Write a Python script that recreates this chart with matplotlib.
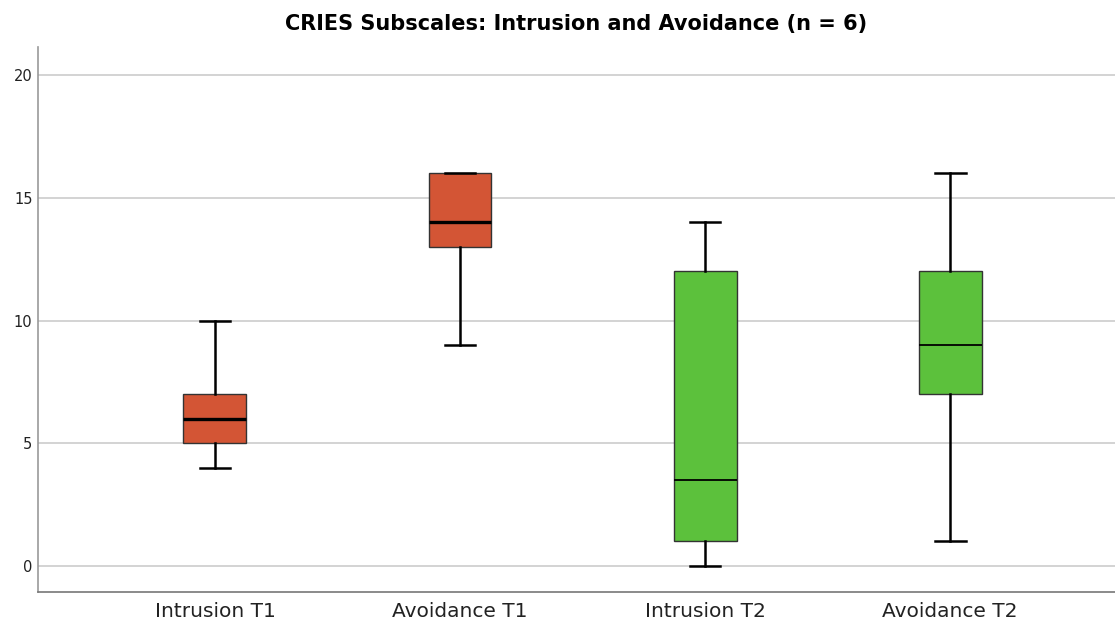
import matplotlib
matplotlib.use("Agg")
import matplotlib.pyplot as plt

# box summary values
labels = ["Intrusion T1", "Avoidance T1", "Intrusion T2", "Avoidance T2"]
whislo = [4, 9, 0, 1]
q1 = [5, 13, 1, 7]
med = [6, 14, 3.5, 9]
q3 = [7, 16, 12, 12]
whishi = [10, 16, 14, 16]
colors = ["#D35535", "#D35535", "#5CC13C", "#5CC13C"]
median_lw = [2.4, 2.4, 1.3, 1.3]

stats = []
for i in range(len(labels)):
    stats.append(dict(label=labels[i], whislo=whislo[i], q1=q1[i], med=med[i],
                      q3=q3[i], whishi=whishi[i], fliers=[]))

fig = plt.figure(figsize=(11.15, 6.28), dpi=100)
ax = fig.add_axes([0.0341, 0.0573, 0.9659, 0.8678])

pos = list(range(1, len(labels) + 1))
bp = ax.bxp(stats, positions=pos, widths=0.257, patch_artist=True,
            showfliers=False, capwidths=0.126,
            boxprops=dict(edgecolor="#333333", linewidth=1.0),
            whiskerprops=dict(color="black", linewidth=1.8),
            capprops=dict(color="black", linewidth=1.8),
            medianprops=dict(color="black"), zorder=3)

for patch, c in zip(bp["boxes"], colors):
    patch.set_facecolor(c)
for m, lw in zip(bp["medians"], median_lw):
    m.set_linewidth(lw)

ax.set_xlim(0.278, 4.673)
ax.set_ylim(-1.06, 21.14)
ax.set_yticks([0, 5, 10, 15, 20])
ax.yaxis.grid(True, color="#cccccc", linewidth=1.2)
ax.set_axisbelow(True)

for s in ["top", "right"]:
    ax.spines[s].set_visible(False)
ax.spines["left"].set_color("#999999")
ax.spines["bottom"].set_color("#777777")
ax.spines["left"].set_linewidth(1.2)
ax.spines["bottom"].set_linewidth(1.2)

ax.tick_params(axis="y", length=0, labelsize=10.5, pad=4, labelcolor="#222222")
ax.tick_params(axis="x", length=0, labelsize=14.5, pad=7, labelcolor="#222222")

ax.set_title("CRIES Subscales: Intrusion and Avoidance (n = 6)",
             fontsize=15, fontweight="bold", pad=12)

fig.savefig("out.png", dpi=100)
